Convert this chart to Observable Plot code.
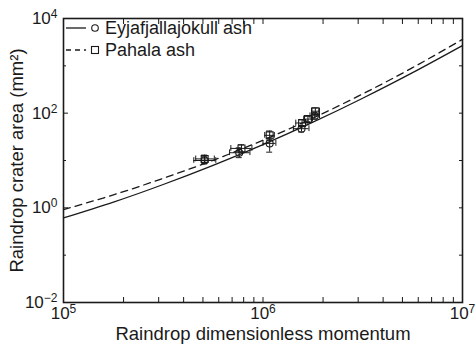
<!DOCTYPE html>
<html>
<head>
<meta charset="utf-8">
<script src="https://cdn.jsdelivr.net/npm/d3@7"></script>
<script src="https://cdn.jsdelivr.net/npm/@observablehq/plot@0.6"></script>
<style>
  body { margin: 0; background: #fff; }
  #chart { width: 476px; height: 348px; }
</style>
</head>
<body>
<div id="chart"></div>
<script>
// Fitted curves
const fitMomentum = [1e5, 1.78e5, 3.16e5, 5.62e5, 1e6, 1.78e6, 3.16e6, 5.62e6, 1e7];
const eyjaFit = [0.61, 1.32, 3.11, 7.91, 21.7, 64.5, 207, 718, 2690];
const pahalaFit = [0.92, 1.88, 4.2, 10.1, 26.9, 78.7, 255, 914, 3630];

// Measurements: Eyjafjallajokull ash (circles)
const eyjaX   = [5.1e5, 7.6e5, 1.08e6, 1.56e6, 1.82e6];
const eyjaXLo = [4.5e5, 6.8e5, 1.0e6, 1.42e6, 1.72e6];
const eyjaXHi = [5.8e5, 8.6e5, 1.16e6, 1.70e6, 1.92e6];
const eyjaY   = [10.0, 14.6, 23, 47, 88];
const eyjaYLo = [8.5, 11.5, 15, 40, 75];
const eyjaYHi = [12, 18.5, 30, 55, 100];

// Measurements: Pahala ash (squares)
const pahalaX   = [5.1e5, 7.8e5, 1.08e6, 1.57e6, 1.68e6, 1.83e6];
const pahalaXLo = [4.6e5, 6.9e5, 1.02e6, 1.46e6, 1.60e6, 1.75e6];
const pahalaXHi = [5.7e5, 8.8e5, 1.14e6, 1.68e6, 1.77e6, 1.92e6];
const pahalaY   = [10.8, 18, 34, 62, 75, 110];
const pahalaYLo = [9, 15, 27, 54, 66, 96];
const pahalaYHi = [13, 21.5, 42, 72, 86, 128];

const xTicks = [1e5,2e5,3e5,4e5,5e5,6e5,7e5,8e5,9e5,1e6,2e6,3e6,4e6,5e6,6e6,7e6,8e6,9e6,1e7];
const yTicksMajor = [1e-2, 1e0, 1e2, 1e4];
const yTicksMinor = [1e-1, 1e1, 1e3];

const seriesNames = ["Eyjafjallajokull ash", "Pahala ash"];
const xLabel = "Raindrop dimensionless momentum";
const yLabel = "Raindrop crater area (mm²)";

const fitE = fitMomentum.map((x, i) => ({x, y: eyjaFit[i]}));
const fitP = fitMomentum.map((x, i) => ({x, y: pahalaFit[i]}));
const ptsE = eyjaX.map((x, i) => ({x, y: eyjaY[i], x1: eyjaXLo[i], x2: eyjaXHi[i], y1: eyjaYLo[i], y2: eyjaYHi[i]}));
const ptsP = pahalaX.map((x, i) => ({x, y: pahalaY[i], x1: pahalaXLo[i], x2: pahalaXHi[i], y1: pahalaYLo[i], y2: pahalaYHi[i]}));
const pts = ptsE.concat(ptsP);

const isPow10 = v => Math.abs(Math.log10(v) - Math.round(Math.log10(v))) < 1e-9;
const supFmt = v => isPow10(v) ? "10^" + Math.round(Math.log10(v)) : "";
const ink = "#1a1a1a";
const capX = 1.035, capY = 1.15;

const chart = Plot.plot({
  width: 476, height: 348,
  marginLeft: 63, marginRight: 14, marginTop: 18, marginBottom: 46,
  style: {fontFamily: "'Liberation Sans', Arial, sans-serif", fontSize: "17px", color: ink, background: "#fff", overflow: "visible"},
  x: {type: "log", domain: [1e5, 1e7]},
  y: {type: "log", domain: [1e-2, 1e4]},
  marks: [
    Plot.axisX(xTicks, {anchor: "bottom", tickSize: -5, tickPadding: 9, tickFormat: supFmt, label: null, stroke: ink, strokeWidth: 1, fontSize: 17}),
    Plot.axisX(xTicks, {anchor: "top", tickSize: -5, tickFormat: () => "", label: null, stroke: ink}),
    Plot.axisY(yTicksMajor, {anchor: "left", tickSize: -5, tickPadding: 11, tickFormat: supFmt, label: null, stroke: ink, fontSize: 17}),
    Plot.axisY(yTicksMinor, {anchor: "left", tickSize: -3, tickFormat: () => "", label: null, stroke: ink}),
    Plot.axisY(yTicksMajor.concat(yTicksMinor), {anchor: "right", tickSize: -4, tickFormat: () => "", label: null, stroke: ink}),
    Plot.line(fitE, {x: "x", y: "y", curve: "natural", stroke: ink, strokeWidth: 1.3}),
    Plot.line(fitP, {x: "x", y: "y", curve: "natural", stroke: ink, strokeWidth: 1.3, strokeDasharray: "7,5"}),
    // error bars
    Plot.ruleX(pts, {x: "x", y1: "y1", y2: "y2", stroke: ink, strokeWidth: 1}),
    Plot.ruleY(pts, {y: "y", x1: "x1", x2: "x2", stroke: ink, strokeWidth: 1}),
    Plot.ruleY(pts, {y: "y1", x1: d => d.x / capX, x2: d => d.x * capX, stroke: ink, strokeWidth: 1}),
    Plot.ruleY(pts, {y: "y2", x1: d => d.x / capX, x2: d => d.x * capX, stroke: ink, strokeWidth: 1}),
    Plot.ruleX(pts, {x: "x1", y1: d => d.y / capY, y2: d => d.y * capY, stroke: ink, strokeWidth: 1}),
    Plot.ruleX(pts, {x: "x2", y1: d => d.y / capY, y2: d => d.y * capY, stroke: ink, strokeWidth: 1}),
    Plot.dot(ptsE, {x: "x", y: "y", r: 3.5, stroke: ink, strokeWidth: 1.1, fill: "none"}),
    Plot.dot(ptsP, {x: "x", y: "y", r: 3.9, symbol: "square", stroke: ink, strokeWidth: 1.1, fill: "none"}),
    Plot.frame({stroke: ink, strokeWidth: 1.6}),
    Plot.text([xLabel], {text: d => d, frameAnchor: "bottom", dy: 37, fontSize: 18.5, fill: ink, textAnchor: "middle"}),
    Plot.text([yLabel], {text: d => d, frameAnchor: "left", dx: -46, rotate: -90, fontSize: 18.5, fill: ink, textAnchor: "middle"})
  ]
});

// superscript exponents in tick labels
d3.select(chart).selectAll("text").each(function () {
  const m = /^10\^(-?\d+)$/.exec(this.textContent);
  if (m) {
    const el = d3.select(this);
    el.text(null);
    el.append("tspan").text("10");
    el.append("tspan").attr("dy", "-0.5em").attr("font-size", "12px").text(m[1].replace("-", "\u2212"));
  }
});

// legend (inside the frame, top-left)
const svg = d3.select(chart);
const lg = svg.append("g").attr("fill", "none").attr("stroke", ink);
const rows = [{y: 28, dash: null, sym: "circle"}, {y: 50, dash: "5,4", sym: "square"}];
rows.forEach((r, i) => {
  lg.append("line").attr("x1", 66).attr("x2", 86).attr("y1", r.y).attr("y2", r.y)
    .attr("stroke-width", 1.3).attr("stroke-dasharray", r.dash);
  if (r.sym === "circle") lg.append("circle").attr("cx", 95).attr("cy", r.y).attr("r", 3.3).attr("stroke-width", 1.1);
  else lg.append("rect").attr("x", 91.5).attr("y", r.y - 3.5).attr("width", 7).attr("height", 7).attr("stroke-width", 1.1);
  svg.append("text").attr("x", 105).attr("y", r.y).attr("dy", "0.35em").attr("text-anchor", "start")
    .attr("font-size", 18).attr("fill", ink).text(seriesNames[i]);
});

document.getElementById("chart").append(chart);
</script>
</body>
</html>
